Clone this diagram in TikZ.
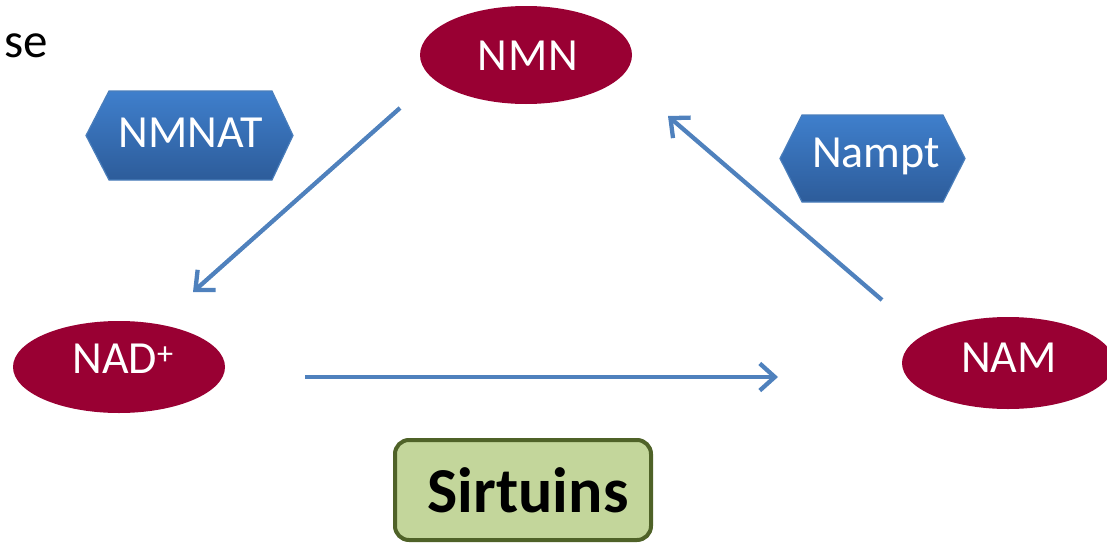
\documentclass[tikz,border=0pt]{standalone}
\usepackage{fontspec}
\setmainfont{Carlito}
\usetikzlibrary{arrows.meta,shapes.geometric}
\definecolor{wine}{HTML}{990033}
\definecolor{arrowblue}{HTML}{4F81BD}
\definecolor{hextop}{HTML}{3F7FCC}
\definecolor{hexbot}{HTML}{2D5C9A}
\definecolor{hexline}{HTML}{4A7EBB}
\definecolor{sirfill}{HTML}{C3D69B}
\definecolor{sirline}{HTML}{4F6228}
\tikzset{
  metab/.style={ellipse, fill=wine, draw=none, minimum width=212pt, minimum height=96pt, inner sep=0pt},
  lbl/.style={text=white, font=\fontsize{46}{54}\selectfont, inner sep=0pt},
  hexshape/.style={top color=hextop, bottom color=hexbot, draw=hexline, line width=1.2pt},
  flow/.style={draw=arrowblue, line width=4.3pt, -{Straight Barb[length=15pt, width=27pt, line width=4.3pt]}},
  sirbox/.style={fill=sirfill, draw=sirline, line width=4pt, rounded corners=14pt, minimum width=256pt, minimum height=100pt, inner sep=0pt},
  sirtext/.style={inner sep=0pt, font=\fontsize{64}{72}\selectfont\bfseries}
}
\begin{document}
\begin{tikzpicture}[x=1pt, y=-1pt]
\useasboundingbox (0,0) rectangle (1107,546);
% partial text at top left
\node[anchor=base east, inner sep=0pt, font=\fontsize{49}{56}\selectfont] (se) at (48,57) {se};
% metabolites
\node[metab, minimum width=212pt, minimum height=98pt] (nmn) at (526,55) {};
\node[lbl] (nmnt) at (528,56) {N\kern1ptM\kern1ptN};
\node[metab, minimum height=92pt] (nad) at (119,367) {};
\node[lbl] (nadt) at (123,359) {NAD\textsuperscript{+}};
\node[metab, minimum height=92pt] (nam) at (1008,363) {};
\node[lbl] (namt) at (1009,358) {NAM};
% enzymes
\path[hexshape] (86,135.5) -- (109,91) -- (272,91) -- (293,135.5) -- (272,180) -- (109,180) -- cycle;
\node[lbl] (nmnat) at (191,133) {NMNAT};
\path[hexshape] (780,158.5) -- (802,115) -- (943,115) -- (965,158.5) -- (943,202) -- (802,202) -- cycle;
\node[lbl] (nampt) at (876,156) {Nampt};
% Sirtuins
\node[sirbox] (sir) at (523,490) {};
\node[sirtext] (sirt) at (528,490) {Sirtuins};
% arrow end points
\coordinate (a1s) at (400,108);
\coordinate (a1e) at (193,292);
\coordinate (a2s) at (305,377);
\coordinate (a2e) at (778,377);
\coordinate (a3s) at (882,300);
\coordinate (a3e) at (668,116);
\draw[flow] (a1s) -- (a1e);
\draw[flow] (a2s) -- (a2e);
\draw[flow] (a3s) -- (a3e);
\end{tikzpicture}
\end{document}
